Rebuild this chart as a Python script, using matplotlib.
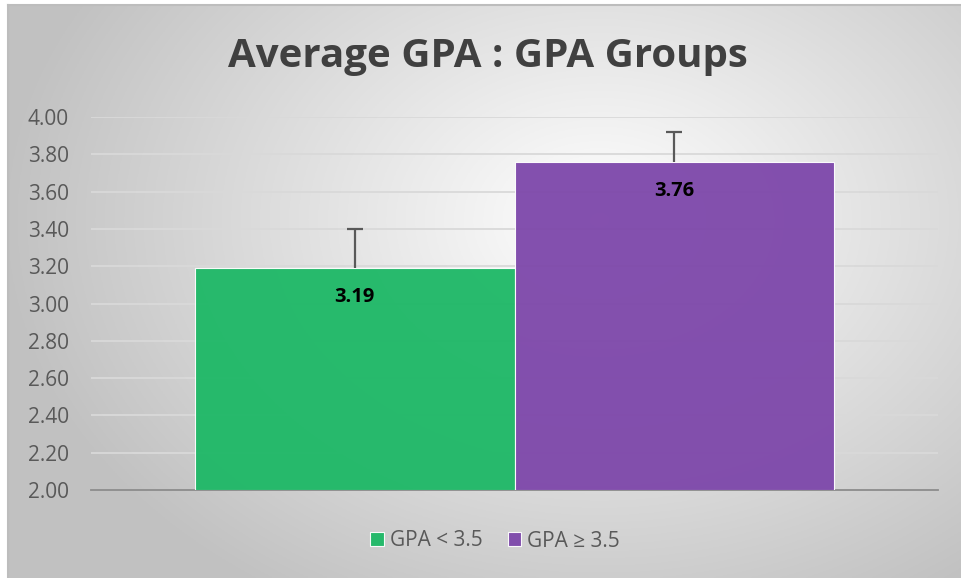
import matplotlib.pyplot as plt
import numpy as np

groups = ["GPA < 3.5", "GPA \u2265 3.5"]
means = [3.19, 3.76]
err_up = [0.21, 0.16]
colors = ["#1db866", "#7d47aa"]
yticks = [2.00, 2.20, 2.40, 2.60, 2.80, 3.00, 3.20, 3.40, 3.60, 3.80, 4.00]

plt.rcParams['font.family'] = ['Open Sans', 'DejaVu Sans']

W, H = 961, 578
fig = plt.figure(figsize=(W / 100, H / 100), dpi=100)
fig.patch.set_facecolor("white")

# chart area with radial gradient
bg = fig.add_axes([8 / W, 0, 1 - 8 / W, 1 - 5 / H])
bg.set_axis_off()
gx = np.linspace(8, W, 400)
gy = np.linspace(5, H, 300)
X, Y = np.meshgrid(gx, gy)
d = np.sqrt(((X - 600) / 620) ** 2 + ((Y - 220) / 460) ** 2)
v = np.clip(1 - 0.25 * d, 0.76, 1)
img = np.dstack([v, v, v])
bg.imshow(img, extent=[0, 1, 0, 1], aspect="auto", origin="upper")
bg.set_xlim(0, 1)
bg.set_ylim(0, 1)
bg.plot([0, 0], [0, 1], color="#bdbdbd", lw=1.5, clip_on=False)
bg.plot([0, 1], [1, 1], color="#bdbdbd", lw=1.5, clip_on=False)

ax = fig.add_axes([91 / W, 1 - 490 / H, (938 - 91) / W, (490 - 117) / H])
ax.patch.set_alpha(0)
xs = [-0.5, 0.5]
for i in range(2):
    ax.bar(xs[i], means[i] - 2.0, bottom=2.0, width=1.0, color=colors[i], alpha=0.95,
           edgecolor="#ffffff", linewidth=0.8, zorder=3, label=groups[i])
    eb = ax.errorbar(xs[i], means[i], yerr=[[0], [err_up[i]]], fmt="none", ecolor="#595959",
                     elinewidth=1.6, capsize=6, capthick=1.6, zorder=4)
    # only the upper cap
    eb[1][0].set_visible(False)
    ax.annotate(f"{means[i]:.2f}", (xs[i], means[i]), xytext=(0, -21), textcoords="offset points",
                ha="center", va="center", fontsize=14.5, fontweight="bold", color="black", zorder=5)

ax.set_xlim(-1.3255, 1.3255)
ax.set_ylim(2.0, 4.0)
ax.set_yticks(yticks)
ax.set_yticklabels([f"{t:.2f}" for t in yticks])
ax.tick_params(axis="y", length=0, pad=16, labelsize=15, labelcolor="#595959")
ax.set_xticks([])
for t in yticks[1:]:
    ax.axhline(t, color="#d9d9d9", lw=1.3, zorder=1)
for s in ["top", "right", "left"]:
    ax.spines[s].set_visible(False)
ax.spines["bottom"].set_color("#8c8c8c")
ax.spines["bottom"].set_linewidth(1.3)
ax.spines["bottom"].set_zorder(2)

fig.text(488 / W, 1 - 57 / H, "Average GPA : GPA Groups", ha="center", va="center",
         fontsize=29, fontweight="bold", color="#404040")

leg = fig.legend(loc="center", bbox_to_anchor=(495 / W, 1 - 541 / H), ncol=2, frameon=False,
                 handlelength=0.65, handleheight=0.65, handletextpad=0.3, columnspacing=1.2,
                 fontsize=15, labelcolor="#595959")

fig.savefig("out.png", dpi=100)
